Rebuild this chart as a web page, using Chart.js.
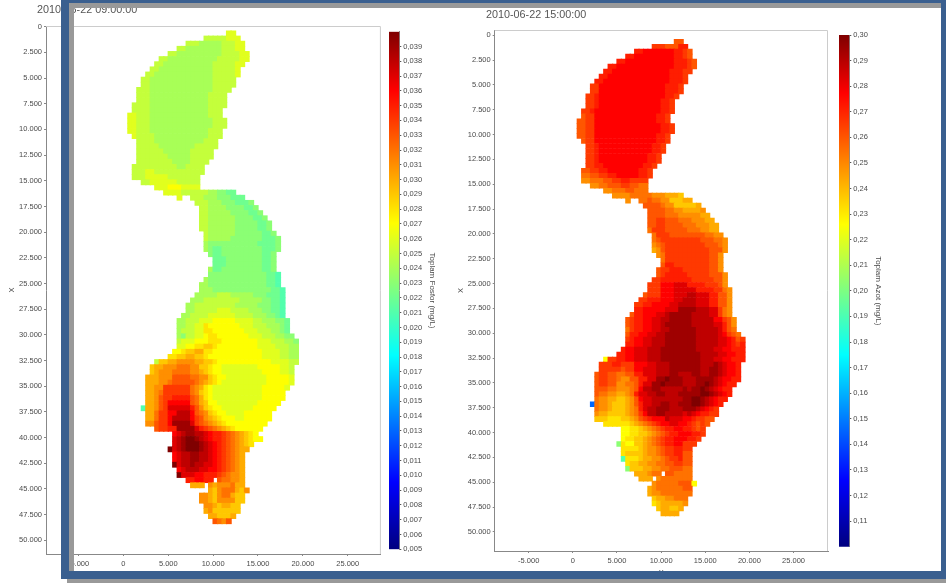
<!DOCTYPE html>
<html>
<head>
<meta charset="utf-8">
<title>Toplam Fosfor / Toplam Azot</title>
<script src="https://cdn.jsdelivr.net/npm/chart.js@4"></script>
<style>
    html, body { margin: 0; padding: 0; background: #fff; }
    #page { position: relative; width: 946px; height: 583px; overflow: hidden; background: #fff; }
    canvas { position: absolute; filter: blur(0.55px); }
    .stamp { position: absolute; font: 10.8px "Liberation Sans", sans-serif; color: #555; white-space: nowrap; filter: blur(0.4px); }
    .bar { position: absolute; }
    .blue { background: #3a5f8f; }
    .grey { background: #999; }
</style>
</head>
<body>
<div id="page">
    <div class="stamp" style="left:37px;top:3px">2010-06-22 09:00:00</div>
    <div class="stamp" style="left:486px;top:8px">2010-06-22 15:00:00</div>
    <canvas id="fosfor-map" width="378" height="583" style="left:7px;top:0"></canvas>
    <canvas id="fosfor-bar" width="48" height="583" style="left:389px;top:0"></canvas>
    <canvas id="azot-map" width="376" height="583" style="left:456px;top:0"></canvas>
    <canvas id="azot-bar" width="44" height="583" style="left:839px;top:0"></canvas>
    <!-- window frame around the screenshot -->
    <div class="bar grey" style="left:69px;top:3px;width:872px;height:5px"></div>
    <div class="bar grey" style="left:69px;top:3px;width:5px;height:568px"></div>
    <div class="bar grey" style="left:67px;top:579px;width:879px;height:4px"></div>
    <div class="bar blue" style="left:61px;top:0;width:885px;height:3px"></div>
    <div class="bar blue" style="left:61px;top:0;width:8px;height:579px"></div>
    <div class="bar blue" style="left:61px;top:571px;width:885px;height:8px"></div>
    <div class="bar blue" style="left:941px;top:0;width:5px;height:579px"></div>
</div>
<script>
// tick values
const xTicks = [-5000, 0, 5000, 10000, 15000, 20000, 25000];
const yTicks = [0, 2500, 5000, 7500, 10000, 12500, 15000, 17500, 20000, 22500, 25000, 27500, 30000, 32500, 35000, 37500, 40000, 42500, 45000, 47500, 50000];
const fosforTicks = [0.005, 0.006, 0.007, 0.008, 0.009, 0.010, 0.011, 0.012, 0.013, 0.014, 0.015, 0.016, 0.017, 0.018, 0.019, 0.020, 0.021, 0.022, 0.023, 0.024, 0.025, 0.026, 0.027, 0.028, 0.029, 0.030, 0.031, 0.032, 0.033, 0.034, 0.035, 0.036, 0.037, 0.038, 0.039];
const azotTicks = [0.11, 0.12, 0.13, 0.14, 0.15, 0.16, 0.17, 0.18, 0.19, 0.20, 0.21, 0.22, 0.23, 0.24, 0.25, 0.26, 0.27, 0.28, 0.29, 0.30];

// colour ramp of both legends
const rampPos = [0, 0.13, 0.375, 0.63, 0.886, 1];
const rampCol = ["#00007f", "#0000ff", "#00ffff", "#ffff00", "#ff0000", "#7f0000"];

// grid size of the model, metres
const cellSize = 500;
const firstRowCentre = 650;

// one string per grid row, run length coded: "23. 2l" = 23 empty cells, then 2 cells of level l.
// levels 0-9a-z go from the bottom to the top of the legend
const fosforRows = [
    "23. 2l", "18. 5k 3l", "14. 3k 5j 3k 2l", "12. 2k 8j 3k 2l", "10. 2k 10j 4k 2l", "8. 2k 11j 5k 2l",
    "7. 2k 11j 5k 2l", "6. 2k 12j 5k 1l", "5. 2k 13j 5k 1l", "4. 2k 14j 5k", "4. 2k 14j 5k", "3. 3k 14j 4k",
    "3. 3k 13j 4k", "3. 3k 13j 4k", "2. 4k 13j 4k", "2. 4k 13j 3k", "1. 2l 3k 13j 3k", "1. 2l 3k 14j 3k",
    "1. 2l 3k 14j 3k", "1. 2l 3k 13j 3k", "2. 1l 4k 12j 3k", "3. 4k 11j 3k", "3. 5k 8j 5k", "3. 6k 6j 5k",
    "3. 7k 5j 5k", "3. 8k 4j 4k", "2. 10k 2j 4k", "2. 3k 2l 8k 3k", "2. 3k 5l 7k", "4. 2k 6l 5k",
    "7. 3l 3m 4l", "9. 4l 6k 2j 2i 2h", "12. 1l 2. 3k 3j 3i 3h", "16. 3k 3j 3i 3h 1i", "17. 2k 4j 4i 2h 1i", "17. 2k 5j 4i 2h 1i",
    "17. 2k 6j 4i 2h 1i", "17. 2k 6j 5i 2h 1i", "17. 2k 6j 5i 2h 1i", "18. 1k 6j 6i 2h 1i", "18. 1k 5j 7i 3h 1i", "18. 1j 3i 8i 4h 1i",
    "18. 1j 1i 2h 9i 3h 1i", "19. 1i 2h 9i 2h 1i", "20. 3h 8i 2h 1i", "20. 3h 8i 2h 1i", "19. 1j 2h 9i 2h 1i", "19. 13i 2h 1g",
    "18. 1j 13i 2h 1g", "17. 2j 13i 2h 1g", "17. 3j 13i 2h 1g", "16. 5j 3k 5j 3i 3h 1g", "15. 3j 8k 5j 2i 2h 1g", "14. 2j 9k 5j 3i 2h 1g",
    "14. 2j 5k 3l 4k 3j 2i 2h 1g", "13. 2j 4k 6l 4k 3j 2i 1h 1g", "12. 2j 3k 3l 5m 4l 2k 3j 2i 1h", "12. 2j 2k 2l 1n 7m 3l 3k 3j 1i 1h",
    "12. 1j 3k 2l 2n 7m 3l 3k 2j 1i 1h", "12. 1j 1i 2k 2l 1m 2n 7m 3l 3k 2j 2i", "12. 1k 3l 3m 3n 8m 3l 3k 2j 1i", "12. 2l 2m 2n 2o 1n 9m 4l 3k 2j",
    "11. 2m 1n 2o 2p 2n 11m 4l 2k 2j", "10. 2n 2o 2p 2o 1n 12m 4l 2k 2j", "7. 1k 2o 2p 4q 2p 2o 1n 12m 4l 2k",
    "6. 1o 2p 3q 3r 2q 2o 1n 2m 8l 5m 2l 1k", "6. 1o 1p 3q 4r 2q 1p 1o 1n 2m 9l 4m 2l 1k", "5. 3p 3q 4s 2r 2q 1o 1n 2m 9l 5m 1l",
    "5. 3p 2q 1r 5s 1r 1q 1p 1o 1n 1m 10l 5m 1l", "5. 2p 2q 6t 1r 1q 1p 1n 1m 11l 5m 1l", "5. 2p 1q 1r 6t 1r 1q 1o 1n 1m 11l 5m",
    "5. 2p 1q 1s 2t 4u 1s 1r 1p 1n 1m 11l 5m", "5. 2p 1q 1s 1t 5v 1s 1r 1p 1o 2m 9l 5m", "4. 1g 2p 1q 1s 1t 5w 1u 1s 1q 1o 1n 2m 7l 5m",
    "5. 2p 1r 2t 2v 3x 1v 1s 1r 1q 1o 1n 2m 4l 6m", "5. 2p 1r 2t 1v 4x 1v 1t 1s 1q 1p 1o 1n 3m 2l 6m", "5. 2q 1s 2t 1v 4y 1w 1t 1s 1r 1q 1p 1o 1n 9m",
    "7. 1s 2t 2u 4y 1w 1u 1t 1s 1r 1q 1p 1o 1n 6m", "11. 1v 1w 1x 2y 2x 1w 1v 2u 1t 1s 1r 1q 1p 1o 1n 1m", "11. 1w 1x 1y 2z 1y 1x 1w 1v 2u 1t 1s 1r 1q 1p 1o 1n 2m",
    "11. 1w 1x 1y 3z 1y 1x 1w 1v 1u 1t 1s 1r 1q 1p 1o 1n", "10. 1z 1w 1x 1y 3z 1y 1x 1w 1v 1u 1t 1s 1r 1q 2p", "11. 1v 1w 2x 2y 2x 1w 1v 1u 1t 1s 1r 1q 1p",
    "11. 1v 1w 2x 2y 2x 1w 1v 1u 1t 1s 1r 1q 1p", "11. 1z 1w 2x 1y 2x 2w 1v 1u 1t 1s 1r 1q 1p", "12. 1v 1w 3x 2w 2v 1u 1t 1s 1r 1q 1p",
    "12. 1z 3w 2v 3u 1t 1s 1r 2q 1p", "14. 2u 2v 2u 1. 1s 2r 2q 1p", "15. 3p 1. 1q 1p 3q 1r 2p", "19. 1p 1o 1q 3r 1p 1o 1q",
    "17. 2q 1p 1o 1q 2r 1p 2o", "17. 2q 1p 1o 4q 2o", "18. 2q 1p 1o 2p 2o", "18. 1p 1q 6o", "19. 2p 3o 1p", "20. 1s 1r 1q 1s"
];

const azotRows = [
    "23. 2s", "18. 3t 3s 2u", "14. 2u 7v 2u 1t 1s", "12. 2u 9v 2u 1t 1s", "10. 2u 11v 3u 1t 1s", "8. 2u 13v 3u 1t 1s",
    "7. 2u 13v 3u 2t", "6. 2u 14v 3u 1t", "5. 2u 15v 3u 1t", "4. 2t 15v 3u 1t", "4. 2t 15v 3u 1t", "3. 2t 1u 15v 2u 1t",
    "3. 2t 1u 14v 2u 1t", "3. 2t 1u 14v 2u 1t", "2. 2t 1u 15v 2u 1t", "2. 1s 2t 14v 2u 1t", "1. 2s 2t 14v 2u 1t", "1. 2s 2t 15v 2u 1t",
    "1. 2s 2t 15v 2u 1t", "1. 2s 2t 14v 2u 1t", "2. 1s 2t 14v 2u 1t", "3. 2t 1u 12v 2u 1t", "3. 2t 1u 12v 2u 1t", "3. 2t 1u 11v 2u 1t",
    "3. 2t 1u 11v 2u 1t", "3. 2t 2u 9v 2u 1t", "2. 2s 2t 2u 7v 2u 1t", "2. 2r 2s 2t 2u 5v 2u 1t", "2. 2q 3r 2s 2t 2u 4t", "4. 2q 2r 3s 2t 2s 2r",
    "7. 2q 3r 2s 3r", "9. 4q 5r 3q 3p 1o", "12. 1q 2. 2r 1s 2r 2q 3o 2p", "16. 4s 1r 2q 5o 1p", "17. 4s 2r 2q 4p 1q", "17. 4s 3r 5q 2p",
    "17. 2s 2t 3s 3r 3q 2p", "17. 2s 2t 4s 3r 3q 2p", "17. 1r 3t 5s 3r 2q 2p", "18. 1r 3t 8s 2r 2q", "18. 1r 1s 9t 3s 2r 1q", "18. 1q 1r 1s 9t 3s 1r 1q",
    "18. 1p 1q 1s 10t 3s 1q", "19. 1q 1r 10t 2s 1q", "20. 1r 10t 2s 1q", "20. 1s 2u 8t 2s 1q", "19. 1s 2t 3u 6t 2s 1q", "19. 1s 1t 5u 5t 3s 1q",
    "18. 2t 7u 5t 2s 1q", "17. 3t 3v 3w 4u 3t 1s 1q", "17. 3t 3v 5w 4u 2t 1r 1q", "16. 1s 3t 3v 3w 2x 3w 2u 2s 1q", "15. 2t 3u 3v 2w 3x 3w 2u 2s 1q", "14. 2t 2u 4v 2w 4x 3w 2u 2s 1q",
    "14. 2u 5v 3w 4y 3x 2w 1t 1r 1q", "13. 1s 2u 3v 2w 1x 5y 4x 2w 1t 1r 1q", "12. 1s 1t 2u 2v 2w 2x 5y 5x 2v 1t 1s 1q", "12. 1s 1t 2u 2v 2w 1x 6y 5x 2w 1u 1s 1q",
    "12. 1r 1t 2u 2v 2w 2x 6y 5x 1w 1u 1s 1r", "12. 1s 2u 2v 2w 2x 7y 5x 1w 1v 1t 1s 1r", "12. 1t 1u 2v 2w 3x 7y 5x 2w 1v 1u 1s 1t", "12. 2u 2v 2w 3x 7y 5x 2w 1v 1u 1t 1u",
    "11. 1u 2v 3w 3x 8y 4x 2w 2v 3u", "10. 2u 2v 3w 3x 9y 4x 2w 2v 2u", "7. 1m 2t 2u 2v 3w 3x 9y 3x 2w 2v 3u",
    "6. 3t 2u 3t 3v 2w 3x 7y 3x 1y 1x 1w 2v 1u", "6. 5t 1s 2t 2v 3w 3x 7y 2x 2y 1x 1w 2v 1u", "5. 1s 2t 2s 2r 2s 2u 3w 3x 2y 3x 2y 2x 2y 1x 1w 2v 1u",
    "5. 1s 2t 2s 1r 2q 2s 2u 2w 2y 1z 3y 3x 3y 1y 1x 1w 2v 2u", "5. 1s 2t 2s 2q 2r 1s 1u 2w 2y 1z 4y 3x 2y 1z 1y 1x 1w 1v 2u", "5. 3s 2r 3q 1r 1s 1v 2x 2y 5x 1y 1x 2y 1z 1y 1x 1w 1v 2u",
    "5. 1s 2r 2q 2p 1q 1r 1u 2w 2x 2y 3x 5y 2z 1y 1x 1w 1v 1u", "5. 1r 2q 2p 2o 1p 1q 1s 1v 2w 7x 2y 2z 1y 1x 1w 1v 2u", "4. 18 1r 2q 1p 3o 1p 1q 1s 1u 2w 2x 2y 2x 3y 2z 1y 1x 1w 1v 1u",
    "5. 1r 2q 1p 3o 1p 1q 1r 1u 1w 2x 3y 3x 3y 1x 1w 1v 1u 1t", "5. 1q 2p 4o 1p 1q 1r 1t 1v 2x 2y 4x 1w 1x 1w 1v 2u 2t", "5. 3o 3n 2o 1p 1q 1s 1t 1u 3v 1x 3w 2v 1u 2t 2s",
    "7. 6n 1o 1p 1q 1r 1s 1t 1u 2v 2w 2v 1u 1t 1s 1t 1s", "11. 2m 2n 1o 1p 1q 1r 1s 1t 2u 2v 2u 1t 1s 1t", "11. 2m 2n 2o 1p 1q 1r 1s 1t 2u 3v 2u 1t",
    "11. 1m 2n 2o 1p 1q 1r 1s 1t 2u 3v 2u 1t", "10. 1i 1n 2m 2o 1p 1q 1r 1s 1t 2u 2v 3t", "11. 4n 1o 1p 2q 1r 1s 2t 2u 2t",
    "11. 1n 4o 1p 2q 1r 1s 2t 2u 2s", "11. 1g 3n 1o 2p 2q 1r 1s 2t 1u 2s", "12. 1n 2o 2p 2q 2r 2s 2t 2s",
    "12. 1i 3o 2p 2q 2r 3s 2r", "14. 3p 1q 2r 1. 2s 4r", "15. 3p 1. 1q 7r", "18. 1q 5r 3s 1m",
    "17. 1p 1q 6r 2s", "17. 1p 2q 7r", "18. 1o 2p 2q 3r", "18. 1n 1o 5p 1q", "19. 1o 2p 2o 1p", "20. 4p"
];

const levelCodes = "0123456789abcdefghijklmnopqrstuvwxyz";

function hexToRgb(hex) {
    return [1, 3, 5].map(i => parseInt(hex.slice(i, i + 2), 16));
}

function rampColor(t) {
    let i = 0;
    while (i < rampPos.length - 2 && t > rampPos[i + 1]) i++;
    const f = Math.min(1, Math.max(0, (t - rampPos[i]) / (rampPos[i + 1] - rampPos[i])));
    const a = hexToRgb(rampCol[i]), b = hexToRgb(rampCol[i + 1]);
    return `rgb(${a.map((c, k) => Math.round(c + (b[k] - c) * f)).join(",")})`;
}

// turn the coded rows into points for the scatter dataset
function decodeRows(rows, min, max) {
    const points = [];
    rows.forEach((row, r) => {
        let col = 0;
        row.split(" ").forEach(run => {
            const n = parseInt(run.slice(0, -1), 10);
            const code = run.slice(-1);
            for (let k = 0; k < n; k++, col++) {
                if (code === ".") continue;
                points.push({
                    x: (col + 0.5) * cellSize,
                    y: firstRowCentre + r * cellSize,
                    v: min + levelCodes.indexOf(code) / 35 * (max - min)
                });
            }
        });
    });
    return points;
}

const dotted = v => String(v).replace(/\B(?=(\d{3})+$)/g, ".");
const tickFont = { family: "Liberation Sans", size: 7.5 };
const inkColor = "#4a4a4a";

// light top and right edge of the plot box
const plotBox = {
    id: "plotBox",
    afterDraw(chart) {
        const { ctx, chartArea: a } = chart;
        ctx.save();
        ctx.strokeStyle = "#ccc";
        ctx.beginPath();
        ctx.moveTo(a.left, a.top + 0.5);
        ctx.lineTo(a.right - 0.5, a.top + 0.5);
        ctx.lineTo(a.right - 0.5, a.bottom);
        ctx.stroke();
        ctx.restore();
    }
};

function drawMap(id, rows, min, max, o) {
    new Chart(document.getElementById(id), {
        type: "scatter",
        data: {
            datasets: [{
                data: decodeRows(rows, min, max),
                pointStyle: "rect",
                pointRadius: o.radius,
                pointBorderWidth: 0,
                pointBackgroundColor: c => rampColor((c.raw.v - min) / (max - min))
            }]
        },
        plugins: [plotBox],
        options: {
            responsive: false,
            animation: false,
            events: [],
            layout: { padding: { top: o.top, right: o.right, bottom: o.bottom, left: 0 } },
            plugins: { legend: { display: false }, tooltip: { enabled: false } },
            scales: {
                x: {
                    type: "linear", min: o.xMin, max: o.xMax,
                    afterBuildTicks: s => { s.ticks = xTicks.map(value => ({ value })); },
                    afterFit: s => { s.height = o.xAxisHeight; },
                    grid: { drawOnChartArea: false, tickLength: 2, color: "#888" },
                    border: { color: "#888" },
                    ticks: { font: tickFont, color: inkColor, padding: 3, maxRotation: 0, autoSkip: false, callback: dotted },
                    title: { display: true, text: "X", font: { family: "Liberation Sans", size: 7.5 }, color: inkColor, padding: 0 }
                },
                y: {
                    type: "linear", reverse: true, min: o.yMin, max: o.yMax,
                    afterBuildTicks: s => { s.ticks = yTicks.map(value => ({ value })); },
                    afterFit: s => { s.width = o.yAxisWidth; },
                    grid: { drawOnChartArea: false, tickLength: 2, color: "#888" },
                    border: { color: "#888" },
                    ticks: { font: tickFont, color: inkColor, padding: 2, autoSkip: false, callback: dotted },
                    title: { display: true, text: "X", font: { family: "Liberation Sans", size: 7.5 }, color: inkColor, padding: 0 }
                }
            }
        }
    });
}

function drawLegend(id, title, ticks, min, max, digits, o) {
    new Chart(document.getElementById(id), {
        type: "bar",
        data: {
            labels: [title],
            datasets: [{
                data: [[min, max]],
                barPercentage: 1,
                categoryPercentage: 1,
                borderWidth: 0,
                backgroundColor: c => {
                    const a = c.chart.chartArea;
                    if (!a) return rampCol[0];
                    const g = c.chart.ctx.createLinearGradient(0, a.bottom, 0, a.top);
                    rampPos.forEach((p, i) => g.addColorStop(p, rampCol[i]));
                    return g;
                }
            }]
        },
        options: {
            responsive: false,
            animation: false,
            events: [],
            layout: { padding: { top: o.top, bottom: o.bottom } },
            plugins: { legend: { display: false }, tooltip: { enabled: false } },
            scales: {
                x: { display: false },
                y: {
                    position: "right", min, max,
                    afterBuildTicks: s => { s.ticks = ticks.map(value => ({ value })); },
                    afterFit: s => { s.width = o.axisWidth; },
                    grid: { drawOnChartArea: false, tickLength: 2, color: "#555" },
                    border: { color: "#888" },
                    ticks: {
                        font: tickFont, color: inkColor, padding: 2, autoSkip: false,
                        callback: v => v.toFixed(digits).replace(".", ",")
                    },
                    title: { display: true, text: title, font: { family: "Liberation Sans", size: 8 }, color: inkColor, padding: 0 }
                }
            }
        }
    });
}

drawMap("fosfor-map", fosforRows, 0.005, 0.040, {
    radius: 4.1, top: 26, right: 3, bottom: 1, xAxisHeight: 28, yAxisWidth: 39,
    xMin: -8630, xMax: 28700, yMin: -70, yMax: 51340
});
drawMap("azot-map", azotRows, 0.10, 0.30, {
    radius: 3.95, top: 30, right: 0, bottom: 6, xAxisHeight: 26, yAxisWidth: 38.7,
    xMin: -8850, xMax: 28900, yMin: -530, yMax: 51930
});
drawLegend("fosfor-bar", "Toplam Fosfor (mg/L)", fosforTicks, 0.005, 0.040, 3, {
    top: 31.7, bottom: 33.7, axisWidth: 37.7
});
drawLegend("azot-bar", "Toplam Azot (mg/L)", azotTicks, 0.10, 0.30, 2, {
    top: 35, bottom: 36.3, axisWidth: 33.7
});
</script>
</body>
</html>
